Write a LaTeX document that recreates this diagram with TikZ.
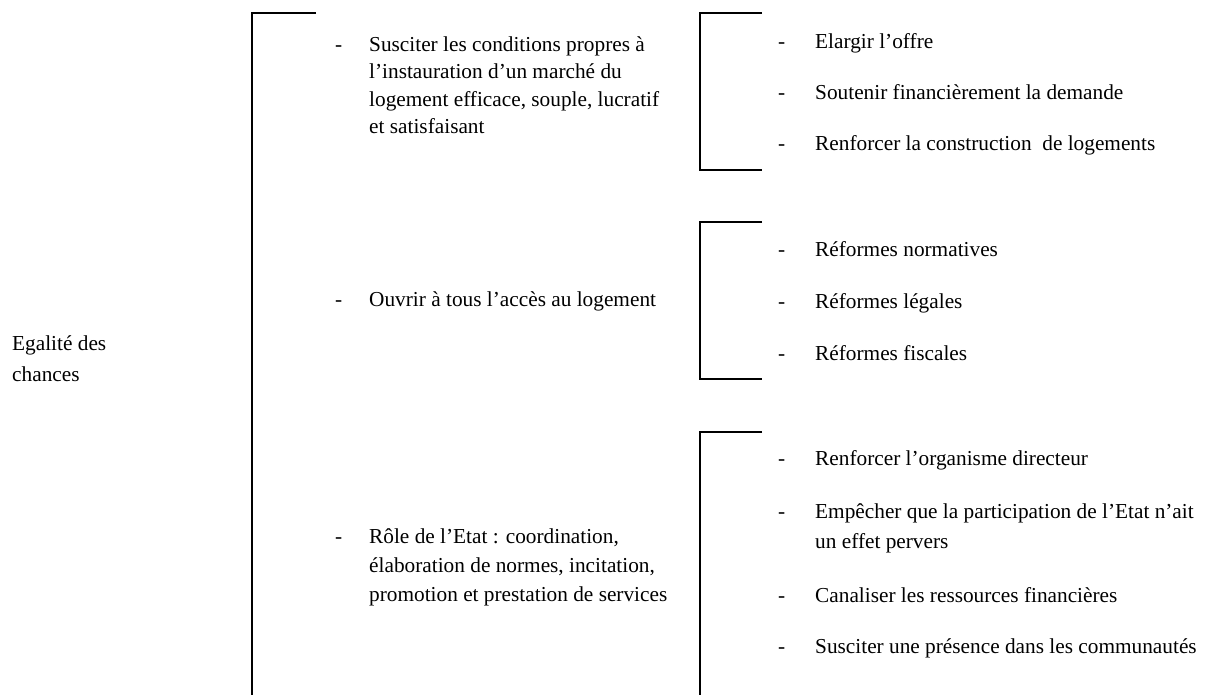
\documentclass[tikz,border=0pt]{standalone}
\usepackage{fontspec}
\setmainfont{Liberation Serif}
\begin{document}
\begin{tikzpicture}[x=1pt,y=-1pt,
  txt/.style={anchor=base west,inner sep=0pt,font=\fontsize{21.3}{28}\selectfont},
  bigbr/.style={line width=2.6pt},
  smallbr/.style={line width=2.2pt}]
\useasboundingbox (0,0) rectangle (1209,694);
\newcommand{\ml}[2]{\parbox[t]{#1pt}{\raggedright #2}}
% root
\node[txt] (root) at (12,350) {\ml{200}{\baselineskip=31pt Egalité des\\chances}};
% big bracket
\draw[bigbr] (316,13) -- (252,13) -- (252,700);
% level 2
\node[txt] (d1) at (335,51) {-};
\node[txt] (t1) at (369,51) {\ml{340}{\baselineskip=27.5pt Susciter les conditions propres à\\l’instauration d’un marché du\\logement efficace, souple, lucratif\\et satisfaisant}};
\node[txt] (d2) at (335,306) {-};
\node[txt] (t2) at (369,306) {Ouvrir à tous l’accès au logement};
\node[txt] (d3) at (335,543) {-};
\node[txt] (t3) at (369,543) {\ml{340}{\baselineskip=29pt Rôle de l’Etat : coordination,\\élaboration de normes, incitation,\\promotion et prestation de services}};
% small brackets
\draw[smallbr] (762,13) -- (700,13) -- (700,170) -- (762,170);
\draw[smallbr] (762,222) -- (700,222) -- (700,379) -- (762,379);
\draw[smallbr] (762,432) -- (700,432) -- (700,700);
% level 3
\node[txt] (a1d) at (778,48) {-};
\node[txt] (a1) at (815,48) {Elargir l’offre};
\node[txt] (a2d) at (778,99) {-};
\node[txt] (a2) at (815,99) {Soutenir financièrement la demande};
\node[txt] (a3d) at (778,150) {-};
\node[txt] (a3) at (815,150) {Renforcer la construction\ \ de logements};
\node[txt] (b1d) at (778,256) {-};
\node[txt] (b1) at (815,256) {Réformes normatives};
\node[txt] (b2d) at (778,308) {-};
\node[txt] (b2) at (815,308) {Réformes légales};
\node[txt] (b3d) at (778,360) {-};
\node[txt] (b3) at (815,360) {Réformes fiscales};
\node[txt] (c1d) at (778,465) {-};
\node[txt] (c1) at (815,465) {Renforcer l’organisme directeur};
\node[txt] (c2d) at (778,518) {-};
\node[txt] (c2) at (815,518) {\ml{400}{\baselineskip=30pt Empêcher que la participation de l’Etat n’ait\\un effet pervers}};
\node[txt] (c3d) at (778,602) {-};
\node[txt] (c3) at (815,602) {Canaliser les ressources financières};
\node[txt] (c4d) at (778,653) {-};
\node[txt] (c4) at (815,653) {Susciter une présence dans les communautés};
\end{tikzpicture}
\end{document}
